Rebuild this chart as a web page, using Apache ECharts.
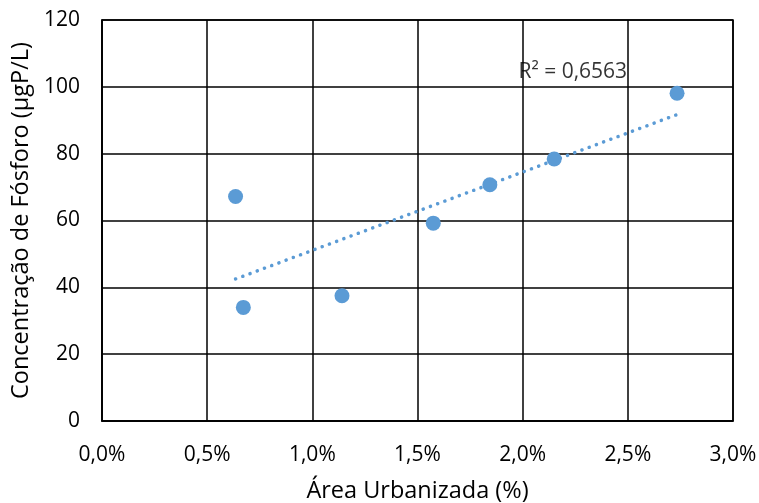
<!DOCTYPE html>
<html>
<head>
<meta charset="utf-8">
<script src="https://cdn.jsdelivr.net/npm/echarts@6/dist/echarts.min.js"></script>
<style>html,body{margin:0;padding:0;background:#fff;}#c{width:759px;height:503px;}</style>
</head>
<body>
<div id="c"></div>
<script>
// Data (x in % urbanized area, y in µgP/L)
var areaUrbanizada = [0.635, 0.672, 1.141, 1.575, 1.844, 2.150, 2.734];
var concentracaoP = [67.2, 34.0, 37.5, 59.2, 70.7, 78.4, 98.1];
var trendX = [0.635, 2.734];
var trendY = [42.5, 91.7];
var r2Label = 'R² = 0,6563';
var r2Pos = [1.98, 104.5];
var xTicks = [0, 0.5, 1.0, 1.5, 2.0, 2.5, 3.0];
var yTicks = [0, 20, 40, 60, 80, 100, 120];

var FONT = 'Open Sans';
var chart = echarts.init(document.getElementById('c'), null, {renderer: 'canvas'});
var pts = areaUrbanizada.map(function (x, i) { return [x, concentracaoP[i]]; });
var trend = trendX.map(function (x, i) { return [x, trendY[i]]; });

chart.setOption({
  animation: false,
  backgroundColor: '#fff',
  grid: {left: 102, top: 20, right: 26, bottom: 82, containLabel: false, outerBoundsMode: 'none',
    show: true, borderColor: '#000', borderWidth: 1.5},
  xAxis: {
    type: 'value', min: xTicks[0], max: xTicks[xTicks.length - 1], interval: 0.5,
    name: 'Área Urbanizada (%)', nameLocation: 'middle', nameGap: 58,
    nameTextStyle: {fontFamily: FONT, fontSize: 23.5, color: '#000'},
    axisLine: {show: true, onZero: false, lineStyle: {color: '#000', width: 1.5}},
    axisTick: {show: false},
    axisLabel: {fontFamily: FONT, fontSize: 21, color: '#000', margin: 24,
      formatter: function (v) { return v.toFixed(1).replace('.', ',') + '%'; }},
    splitLine: {show: true, lineStyle: {color: '#000', width: 1.5}}
  },
  yAxis: {
    type: 'value', min: yTicks[0], max: yTicks[yTicks.length - 1], interval: 20,
    name: 'Concentração de Fósforo (µgP/L)', nameLocation: 'middle', nameGap: 69,
    nameTextStyle: {fontFamily: FONT, fontSize: 23.5, color: '#000'},
    axisLine: {show: true, lineStyle: {color: '#000', width: 1.5}},
    axisTick: {show: false},
    axisLabel: {fontFamily: FONT, fontSize: 21, color: '#000', margin: 22},
    splitLine: {show: true, lineStyle: {color: '#000', width: 1.5}}
  },
  series: [
    {
      type: 'line', data: trend, symbol: 'none', z: 3,
      lineStyle: {color: '#5B9BD5', width: 3.5, type: [0.1, 7.6], cap: 'round'}
    },
    {
      type: 'scatter', data: pts, symbol: 'circle', symbolSize: 15, z: 4,
      itemStyle: {color: '#5B9BD5', opacity: 1}
    },
    {
      type: 'scatter', data: [r2Pos], symbolSize: 0, z: 5, silent: true,
      label: {show: true, position: 'right', distance: 0, formatter: r2Label,
        fontFamily: FONT, fontSize: 21, color: '#000'}
    }
  ]
});
</script>
</body>
</html>
